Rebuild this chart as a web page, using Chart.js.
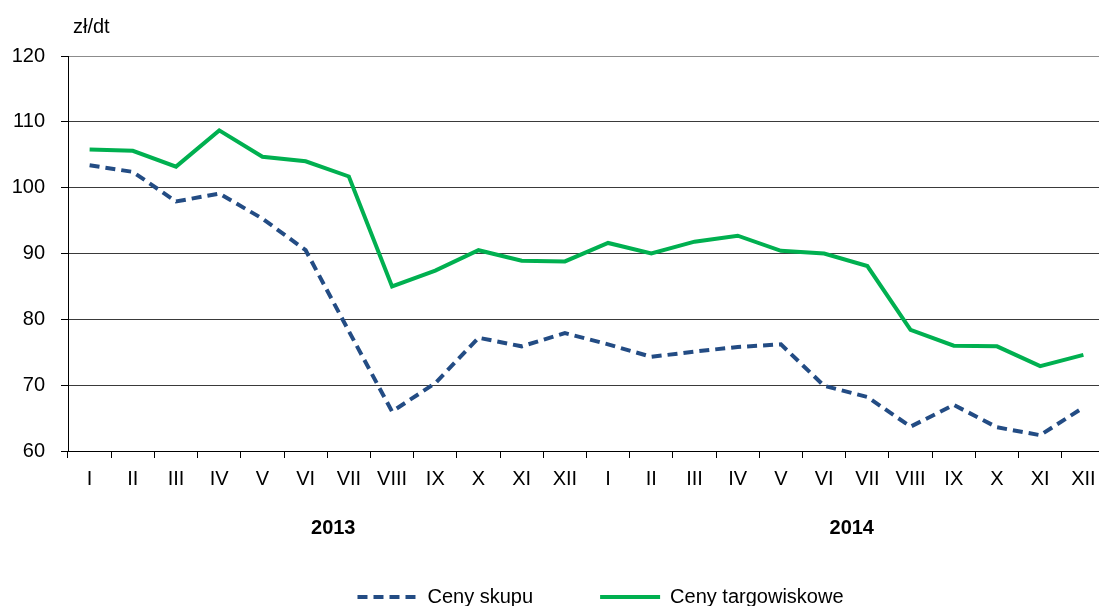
<!DOCTYPE html>
<html>
<head>
<meta charset="utf-8">
<script src="https://cdn.jsdelivr.net/npm/chart.js@4/dist/chart.umd.min.js"></script>
<style>
    html, body { margin: 0; padding: 0; overflow: hidden; background: #fff; }
    #wrap { width: 1110px; height: 617px; position: relative; }
</style>
</head>
<body>
<div id="wrap"><canvas id="prices"></canvas></div>
<script>
var months = ['I', 'II', 'III', 'IV', 'V', 'VI', 'VII', 'VIII', 'IX', 'X', 'XI', 'XII',
              'I', 'II', 'III', 'IV', 'V', 'VI', 'VII', 'VIII', 'IX', 'X', 'XI', 'XII'];
var years = ['2013', '2014'];
var cenySkupu = [103.4, 102.4, 97.9, 99.1, 95.3, 90.5, 78.2, 66.0, 70.3, 77.2, 75.9, 77.9,
                 76.2, 74.3, 75.1, 75.8, 76.2, 69.9, 68.2, 63.7, 67.0, 63.6, 62.4, 66.6];
var cenyTargowiskowe = [105.8, 105.6, 103.2, 108.7, 104.7, 104.0, 101.7, 85.0, 87.4, 90.5, 88.9, 88.8,
                        91.6, 90.0, 91.8, 92.7, 90.4, 90.0, 88.1, 78.4, 76.0, 75.9, 72.9, 74.6];
var yTicks = [60, 70, 80, 90, 100, 110, 120];

var fontFamily = '"Liberation Sans", Arial, sans-serif';
Chart.defaults.font.family = fontFamily;
Chart.defaults.font.size = 20;
Chart.defaults.color = '#000';

// unit label at the top and the year labels under the months
var extraText = {
    id: 'extraText',
    afterDraw: function (chart) {
        var ctx = chart.ctx;
        var x = chart.scales.x;
        ctx.save();
        ctx.fillStyle = '#000';
        ctx.textBaseline = 'middle';
        ctx.font = '20px ' + fontFamily;
        ctx.textAlign = 'left';
        ctx.fillText('zł/dt', 73, 27);
        ctx.font = 'bold 20px ' + fontFamily;
        ctx.textAlign = 'center';
        years.forEach(function (year, i) {
            var mid = (x.getPixelForValue(i * 12 + 5) + x.getPixelForValue(i * 12 + 6)) / 2;
            ctx.fillText(year, mid + 6, 528);
        });
        ctx.restore();
    }
};

// move the legend right, as in the original
var legendShift = {
    id: 'legendShift',
    afterLayout: function (chart) {
        if (chart.legend) {
            chart.legend.left += 48;
            chart.legend.right += 48;
        }
    }
};

new Chart(document.getElementById('prices'), {
    type: 'line',
    data: {
        labels: months,
        datasets: [{
            label: 'Ceny skupu',
            data: cenySkupu,
            borderColor: '#234C84',
            backgroundColor: '#234C84',
            borderWidth: 4,
            borderDash: [10, 6],
            pointRadius: 0,
            tension: 0
        }, {
            label: 'Ceny targowiskowe',
            data: cenyTargowiskowe,
            borderColor: '#00B050',
            backgroundColor: '#00B050',
            borderWidth: 4,
            pointRadius: 0,
            tension: 0
        }]
    },
    options: {
        responsive: true,
        maintainAspectRatio: false,
        animation: false,
        layout: {
            padding: { left: 0, top: 56, right: 5, bottom: 0 }
        },
        scales: {
            x: {
                offset: true,
                afterFit: function (scale) { scale.height = 69; },
                grid: {
                    offset: true,
                    drawOnChartArea: false,
                    drawTicks: true,
                    tickLength: 7,
                    tickColor: '#000'
                },
                border: { color: '#000', width: 1 },
                ticks: { autoSkip: false, maxRotation: 0, padding: 9 }
            },
            y: {
                min: 60,
                max: 120,
                afterFit: function (scale) { scale.width = 68; },
                afterBuildTicks: function (scale) {
                    scale.ticks = yTicks.map(function (v) { return { value: v }; });
                },
                grid: {
                    color: function (c) {
                        return c.tick && c.tick.value === 120 ? '#8c8c8c' : '#3a3a3a';
                    },
                    tickLength: 7,
                    tickColor: '#000'
                },
                border: { color: '#000', width: 1 },
                ticks: { padding: 16 }
            }
        },
        plugins: {
            legend: {
                position: 'bottom',
                labels: {
                    usePointStyle: true,
                    pointStyle: 'line',
                    pointStyleWidth: 60,
                    padding: 67,
                    color: '#000',
                    generateLabels: function (chart) {
                        var items = Chart.defaults.plugins.legend.labels.generateLabels(chart);
                        items.forEach(function (item) {
                            var ds = chart.data.datasets[item.datasetIndex];
                            item.lineDash = ds.borderDash || [];
                            item.lineWidth = ds.borderWidth;
                            item.strokeStyle = ds.borderColor;
                        });
                        return items;
                    }
                }
            },
            tooltip: { enabled: false }
        }
    },
    plugins: [extraText, legendShift]
});
</script>
</body>
</html>
